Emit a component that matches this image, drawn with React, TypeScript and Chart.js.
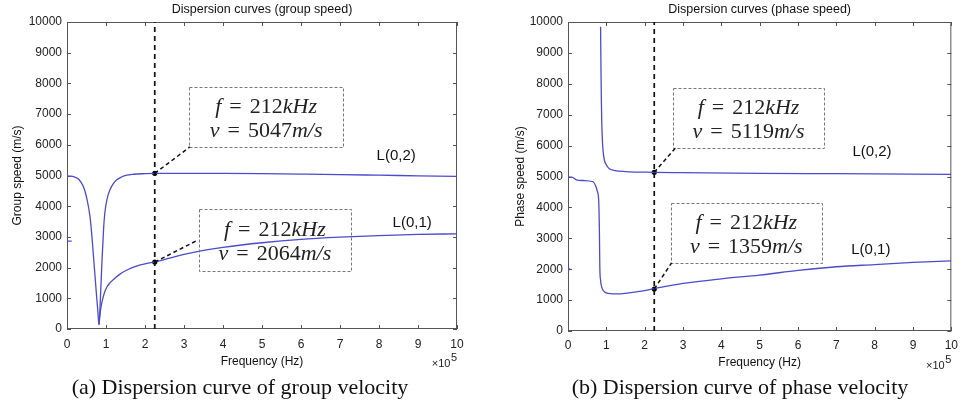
import React, { useEffect, useRef } from "react";
import { Chart, registerables } from "chart.js";
Chart.register(...registerables);

// ---------- DATA (frequency in kHz, speed in m/s) ----------
const groupL02Freq = [0, 0.4, 10, 20, 30, 42, 50, 59, 64, 68, 72, 76, 79, 82, 86, 90, 94, 97, 103, 110, 118, 127, 140, 153, 170, 200, 225, 300, 400, 500, 600, 700, 800, 900, 1000];
const groupL02Speed = [5150, 5000, 4980, 4950, 4880, 4640, 4300, 3660, 3000, 2350, 1700, 1050, 600, 140, 1100, 2300, 3300, 3780, 4250, 4530, 4720, 4850, 4950, 5010, 5040, 5060, 5070, 5072, 5068, 5058, 5045, 5030, 5010, 4990, 4970];

const groupL01Freq = [82, 84, 87, 91, 96, 102, 110, 120, 135, 155, 180, 200, 225, 260, 300, 350, 400, 500, 600, 700, 800, 900, 1000];
const groupL01Speed = [140, 400, 700, 950, 1180, 1360, 1500, 1620, 1780, 1930, 2060, 2120, 2190, 2300, 2430, 2560, 2660, 2810, 2920, 2990, 3040, 3080, 3100];

const groupStubFreq = [0, 0, 12];
const groupStubSpeed = [3100, 2860, 2860];

const phaseL02Freq = [85, 86, 87, 88, 89, 91, 95, 100, 107, 120, 150, 225, 300, 500, 700, 1000];
const phaseL02Speed = [9850, 8500, 7500, 6800, 6400, 5900, 5530, 5380, 5260, 5200, 5160, 5135, 5125, 5100, 5090, 5070];

const phaseL01Freq = [0, 0.4, 10, 22, 40, 65, 73, 77, 80, 82, 83, 85, 88, 92, 97, 105, 116, 130, 150, 200, 225, 300, 400, 500, 600, 700, 800, 900, 1000];
const phaseL01Speed = [5150, 5000, 4980, 4890, 4870, 4830, 4670, 4500, 4240, 3160, 2080, 1640, 1420, 1310, 1250, 1215, 1200, 1200, 1220, 1310, 1370, 1540, 1690, 1810, 1960, 2080, 2150, 2220, 2270];

const phaseStubFreq = [0, 0, 5];
const phaseStubSpeed = [2180, 1940, 2030];

const markerFreq = 225; // dashed marker line position (kHz)
const groupMarkerSpeeds = [5070, 2180];
const phaseMarkerSpeeds = [5135, 1360];

const annotFreq = "212";
const groupAnnotSpeeds = ["5047", "2064"];
const phaseAnnotSpeeds = ["5119", "1359"];

const modeLabels = ["L(0,2)", "L(0,1)"];
const xTickLabels = ["0", "1", "2", "3", "4", "5", "6", "7", "8", "9", "10"];
const yMin = 0;
const yMax = 10000;
const yStep = 1000;

// ---------- helpers ----------
const BLUE = "#4b4bcc";
const SANS = '"Liberation Sans", Arial, sans-serif';
const SERIF = '"Liberation Serif", "Times New Roman", serif';

const pts = (xs: number[], ys: number[]) => xs.map((x, i) => ({ x, y: ys[i] }));

function drawMath(ctx: CanvasRenderingContext2D, parts: [string, boolean][], cx: number, cy: number, size: number) {
  const gap = 8;
  const items = parts.map(([t, it]) => {
    const font = `${it ? "italic " : ""}${size}px ${SERIF}`;
    ctx.font = font;
    const w = t === "=" ? ctx.measureText(t).width + 2 * gap : ctx.measureText(t).width;
    return { t, font, w };
  });
  const total = items.reduce((s, i) => s + i.w, 0);
  let x = cx - total / 2;
  ctx.textBaseline = "middle";
  ctx.textAlign = "left";
  ctx.fillStyle = "#222";
  for (const i of items) {
    ctx.font = i.font;
    if (i.t === "=") ctx.fillText(i.t, x + gap, cy);
    else ctx.fillText(i.t, x, cy);
    x += i.w;
  }
}

type Box = { x1: number; x2: number; y1: number; y2: number; ax: number; ay: number; ex: number; ey: number; v: string };
type Lbl = { x: number; y: number; text: string };

const decorPlugin = {
  id: "decor",
  beforeDatasetsDraw(chart: any) {
    const { ctx, chartArea: a } = chart;
    const xs = chart.scales.x;
    const ys = chart.scales.y;
    ctx.save();
    ctx.strokeStyle = "#555";
    ctx.lineWidth = 1;
    ctx.setLineDash([]);
    ctx.strokeRect(a.left + 0.5, a.top + 0.5, a.right - a.left - 1, a.bottom - a.top - 1);
    ctx.beginPath();
    xs.ticks.forEach((t: any) => {
      const px = Math.round(xs.getPixelForValue(t.value)) + 0.5;
      ctx.moveTo(px, a.bottom);
      ctx.lineTo(px, a.bottom - 4);
      ctx.moveTo(px, a.top);
      ctx.lineTo(px, a.top + 4);
    });
    ys.ticks.forEach((t: any) => {
      const py = Math.round(ys.getPixelForValue(t.value)) + 0.5;
      ctx.moveTo(a.left, py);
      ctx.lineTo(a.left + 4, py);
      ctx.moveTo(a.right, py);
      ctx.lineTo(a.right - 4, py);
    });
    ctx.stroke();
    ctx.restore();
  },
  afterDatasetsDraw(chart: any, _args: any, opts: any) {
    const { ctx, chartArea: a } = chart;
    const xs = chart.scales.x;
    const ys = chart.scales.y;
    ctx.save();
    // title
    ctx.fillStyle = "#111";
    ctx.font = `12.5px ${SANS}`;
    ctx.textAlign = "center";
    ctx.textBaseline = "middle";
    ctx.fillText(opts.title, (a.left + a.right) / 2, 10);

    // x10^5
    ctx.textAlign = "right";
    ctx.font = `11px ${SANS}`;
    ctx.fillStyle = "#222";
    ctx.fillText("5", a.right, a.bottom + 29);
    const w5 = ctx.measureText("5").width;
    ctx.fillText("\u00d710", a.right - w5 - 0.5, a.bottom + 35);

    // annotation boxes
    (opts.boxes as Box[]).forEach((b) => {
      const L = xs.getPixelForValue(b.x1);
      const R = xs.getPixelForValue(b.x2);
      const T = ys.getPixelForValue(b.y1);
      const B = ys.getPixelForValue(b.y2);
      ctx.strokeStyle = "#777";
      ctx.lineWidth = 1;
      ctx.setLineDash([3, 2]);
      ctx.strokeRect(Math.round(L) + 0.5, Math.round(T) + 0.5, Math.round(R - L), Math.round(B - T));
      ctx.strokeStyle = "#111";
      ctx.lineWidth = 1.5;
      ctx.setLineDash([4, 3]);
      ctx.beginPath();
      ctx.moveTo(xs.getPixelForValue(b.ax), ys.getPixelForValue(b.ay));
      ctx.lineTo(xs.getPixelForValue(b.ex), ys.getPixelForValue(b.ey));
      ctx.stroke();
      ctx.setLineDash([]);
      const cx = (L + R) / 2;
      const h = B - T;
      drawMath(ctx, [["f", true], ["=", false], [annotFreq, false], ["kHz", true]], cx, T + h * 0.34, 22);
      drawMath(ctx, [["v", true], ["=", false], [b.v, false], ["m/s", true]], cx, T + h * 0.73, 22);
    });

    // mode labels
    ctx.font = `15px ${SANS}`;
    ctx.fillStyle = "#111";
    ctx.textAlign = "center";
    ctx.textBaseline = "middle";
    (opts.labels as Lbl[]).forEach((l) => {
      ctx.fillText(l.text, xs.getPixelForValue(l.x), ys.getPixelForValue(l.y));
    });
    ctx.restore();
  },
};

type PanelSpec = {
  title: string;
  yTitle: string;
  yWidth: number;
  rightPad: number;
  xHeight: number;
  xTickPad: number;
  yTitlePad: number;
  xTitlePad: number;
  curves: { x: number; y: number }[][];
  stub: { x: number; y: number }[];
  markers: { x: number; y: number }[];
  boxes: Box[];
  labels: Lbl[];
};

function buildConfig(p: PanelSpec): any {
  const curveDs = (data: any[]) => ({
    data,
    showLine: true,
    borderColor: BLUE,
    borderWidth: 1.3,
    pointRadius: 0,
    cubicInterpolationMode: "monotone",
    fill: false,
  });
  return {
    type: "scatter",
    data: {
      datasets: [
        {
          data: [{ x: markerFreq, y: yMin }, { x: markerFreq, y: yMax }],
          showLine: true,
          borderColor: "#111",
          borderWidth: 1.7,
          borderDash: [5, 4],
          pointRadius: 0,
        },
        ...p.curves.map(curveDs),
        { data: p.stub, showLine: true, borderColor: BLUE, borderWidth: 1.3, pointRadius: 0, tension: 0 },
        { data: p.markers, showLine: false, pointRadius: 2.6, backgroundColor: "#000", borderColor: "#000", borderWidth: 0 },
      ],
    },
    options: {
      animation: false,
      responsive: false,
      maintainAspectRatio: false,
      devicePixelRatio: 1,
      events: [],
      layout: { padding: { top: 22, right: p.rightPad, left: 0, bottom: 0 } },
      plugins: {
        legend: { display: false },
        tooltip: { enabled: false },
        title: { display: false },
        decor: { title: p.title, boxes: p.boxes, labels: p.labels },
      },
      scales: {
        x: {
          type: "linear",
          min: 0,
          max: 1000,
          grid: { display: false, drawTicks: false },
          border: { display: false },
          ticks: {
            stepSize: 100,
            autoSkip: false,
            maxRotation: 0,
            padding: p.xTickPad,
            color: "#222",
            font: { family: SANS, size: 12 },
            callback: (v: number) => xTickLabels[Math.round(v / 100)] ?? "",
          },
          title: {
            display: true,
            text: "Frequency (Hz)",
            color: "#111",
            font: { family: SANS, size: 12 },
            padding: { top: 0, bottom: p.xTitlePad },
          },
          afterFit: (s: any) => {
            s.height = p.xHeight;
          },
        },
        y: {
          type: "linear",
          min: yMin,
          max: yMax,
          grid: { display: false, drawTicks: false },
          border: { display: false },
          ticks: {
            stepSize: yStep,
            autoSkip: false,
            padding: 5,
            color: "#222",
            font: { family: SANS, size: 12 },
            callback: (v: number) => String(v),
          },
          title: {
            display: true,
            text: p.yTitle,
            color: "#111",
            font: { family: SANS, size: 12 },
            padding: { top: p.yTitlePad, bottom: 0 },
          },
          afterFit: (s: any) => {
            s.width = p.yWidth;
          },
        },
      },
    },
    plugins: [decorPlugin],
  };
}

const groupSpec: PanelSpec = {
  title: "Dispersion curves (group speed)",
  yTitle: "Group speed (m/s)",
  yWidth: 67,
  rightPad: 23,
  xHeight: 46,
  xTickPad: 8,
  yTitlePad: 10,
  xTitlePad: 6,
  curves: [pts(groupL02Freq, groupL02Speed), pts(groupL01Freq, groupL01Speed)],
  stub: pts(groupStubFreq, groupStubSpeed),
  markers: groupMarkerSpeeds.map((y) => ({ x: markerFreq, y })),
  boxes: [
    { x1: 313, x2: 708, y1: 7880, y2: 5930, ax: markerFreq, ay: groupMarkerSpeeds[0], ex: 315, ey: 5930, v: groupAnnotSpeeds[0] },
    { x1: 338, x2: 728, y1: 3910, y2: 1890, ax: markerFreq, ay: groupMarkerSpeeds[1], ex: 336, ey: 2900, v: groupAnnotSpeeds[1] },
  ],
  labels: [
    { x: 844, y: 5640, text: modeLabels[0] },
    { x: 885, y: 3450, text: modeLabels[1] },
  ],
};

const phaseSpec: PanelSpec = {
  title: "Dispersion curves (phase speed)",
  yTitle: "Phase speed (m/s)",
  yWidth: 88,
  rightPad: 6,
  xHeight: 44,
  xTickPad: 7,
  yTitlePad: 33,
  xTitlePad: 5,
  curves: [pts(phaseL02Freq, phaseL02Speed), pts(phaseL01Freq, phaseL01Speed)],
  stub: pts(phaseStubFreq, phaseStubSpeed),
  markers: phaseMarkerSpeeds.map((y) => ({ x: markerFreq, y })),
  boxes: [
    { x1: 274, x2: 668, y1: 7860, y2: 5920, ax: markerFreq, ay: phaseMarkerSpeeds[0], ex: 280, ey: 5920, v: phaseAnnotSpeeds[0] },
    { x1: 268, x2: 662, y1: 4140, y2: 2200, ax: markerFreq, ay: phaseMarkerSpeeds[1], ex: 270, ey: 2200, v: phaseAnnotSpeeds[1] },
  ],
  labels: [
    { x: 793, y: 5790, text: modeLabels[0] },
    { x: 790, y: 2620, text: modeLabels[1] },
  ],
};

function Panel({ left, width, spec }: { left: number; width: number; spec: PanelSpec }) {
  const ref = useRef<HTMLCanvasElement>(null);
  useEffect(() => {
    if (!ref.current) return;
    const chart = new Chart(ref.current, buildConfig(spec));
    return () => chart.destroy();
  }, [spec]);
  return (
    <canvas
      ref={ref}
      width={width}
      height={375}
      style={{ position: "absolute", left, top: 0, width, height: 375 }}
    />
  );
}

const captionStyle: React.CSSProperties = {
  position: "absolute",
  top: 375,
  width: 420,
  height: 24,
  lineHeight: "24px",
  textAlign: "center",
  fontFamily: SERIF,
  fontSize: 22,
  color: "#111",
  whiteSpace: "nowrap",
};

export default function App() {
  return (
    <div style={{ position: "fixed", left: 0, top: 0, width: 965, height: 405, background: "#fff", overflow: "hidden" }}>
      <Panel left={0} width={480} spec={groupSpec} />
      <Panel left={480} width={485} spec={phaseSpec} />
      <div style={{ ...captionStyle, left: 30 }}>(a) Dispersion curve of group velocity</div>
      <div style={{ ...captionStyle, left: 530 }}>(b) Dispersion curve of phase velocity</div>
    </div>
  );
}
